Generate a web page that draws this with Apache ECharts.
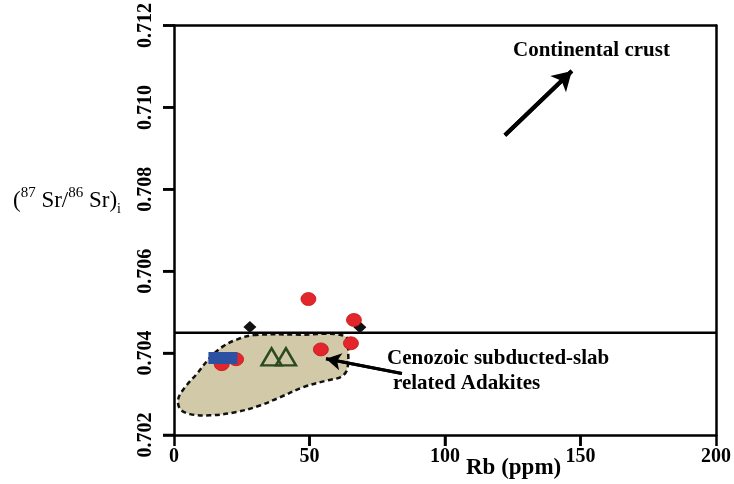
<!DOCTYPE html>
<html>
<head>
<meta charset="utf-8">
<script src="https://cdn.jsdelivr.net/npm/echarts@6/dist/echarts.min.js"></script>
<style>
  html, body { margin: 0; padding: 0; background: #fff; }
  #chart { width: 734px; height: 484px; }
</style>
</head>
<body>
<div id="chart"></div>
<script>
// Rb (ppm) vs initial 87Sr/86Sr
const redRb = [17.6, 22.9, 49.6, 54.2, 65.3, 66.4];
const redSr = [0.70373, 0.70385, 0.70532, 0.70409, 0.70424, 0.70481];
const blueRb = [15.1, 18.0, 21.0];
const blueSr = [0.70388, 0.70388, 0.70388];
const blackRb = [28.0, 68.6];
const blackSr = [0.70464, 0.70463];
const greenRb = [36.0, 41.3];
const greenSr = [0.70391, 0.70391];

// Field of Cenozoic subducted-slab related adakites (outline)
const fieldRb = [29.3, 46.5, 63.1, 64.3, 63.7, 61.3, 56.3, 47.7, 39.1, 31.7, 23.1, 13.3, 5.9, 2.2, 1.6, 4.1, 8.4, 13.3, 18.2, 23.1];
const fieldSr = [0.70444, 0.70445, 0.70441, 0.70397, 0.70357, 0.70341, 0.70333, 0.70317, 0.70292, 0.70272, 0.70256, 0.70248, 0.70251, 0.70264, 0.70289, 0.70317, 0.70349, 0.70389, 0.70417, 0.70433];

// Reference level and trend arrows
const srLevel = 0.7045;
const crustArrowRb = [122.1, 146.8];
const crustArrowSr = [0.70932, 0.71089];
const adakiteArrowRb = [84.1, 56.1];
const adakiteArrowSr = [0.70350, 0.70386];

const xTicks = [0, 50, 100, 150, 200];
const yTicks = [0.702, 0.704, 0.706, 0.708, 0.710, 0.712];

const serif = '"Liberation Serif", "Times New Roman", serif';
const chart = echarts.init(document.getElementById('chart'));

const zip = (a, b) => a.map((v, i) => [v, b[i]]);
const xMin = xTicks[0], xMax = xTicks[xTicks.length - 1];
const yMin = yTicks[0], yMax = yTicks[yTicks.length - 1];
const TICK = 11;
const frameLine = { show: true, onZero: false, lineStyle: { color: '#000', width: 2.5 } };
const tickStyle = { show: true, length: TICK, lineStyle: { color: '#000', width: 2.5 } };

// Plain axes on the top and right close the frame
const frameX = { type: 'value', position: 'top', min: xMin, max: xMax, interval: 50,
  axisLine: frameLine, axisTick: { show: false }, axisLabel: { show: false }, splitLine: { show: false } };
const frameY = { type: 'value', position: 'right', min: yMin, max: yMax, interval: 0.002,
  axisLine: frameLine, axisTick: { show: false }, axisLabel: { show: false }, splitLine: { show: false } };

// Adakite field plus outward tick marks at the labelled values
function renderField(params, api) {
  const children = [{
    type: 'polygon',
    shape: { points: fieldRb.map((x, i) => api.coord([x, fieldSr[i]])), smooth: 0.35 },
    style: { fill: '#d2c9a8', stroke: '#111', lineWidth: 2.5, lineDash: [5, 3.5] }
  }];
  const tick = { stroke: '#000', lineWidth: 2.5 };
  xTicks.slice(1, -1).forEach(v => {
    const p = api.coord([v, yMin]);
    children.push({ type: 'line', shape: { x1: p[0], y1: p[1], x2: p[0], y2: p[1] + TICK }, style: tick });
  });
  yTicks.forEach(v => {
    const p = api.coord([xMin, v]);
    children.push({ type: 'line', shape: { x1: p[0] - TICK, y1: p[1], x2: p[0], y2: p[1] }, style: tick });
  });
  return { type: 'group', children };
}

chart.setOption({
  animation: false,
  grid: { left: 174, right: 18, top: 22, bottom: 49 },
  xAxis: [{
    type: 'value', position: 'bottom', min: xMin, max: xMax, interval: 50,
    splitLine: { show: false },
    axisLine: frameLine,
    axisTick: tickStyle,
    axisLabel: { color: '#000', fontFamily: serif, fontWeight: 'bold', fontSize: 20, margin: 12 }
  }, frameX],
  yAxis: [{
    type: 'value', position: 'left', min: yMin, max: yMax, interval: 0.002,
    splitLine: { show: false },
    axisLine: frameLine,
    axisTick: tickStyle,
    axisLabel: {
      color: '#000', fontFamily: serif, fontWeight: 'bold', fontSize: 20, rotate: 90, margin: 18,
      formatter: v => v.toFixed(3)
    }
  }, frameY],
  graphic: [
    { type: 'text', left: 466, top: 457, style: { text: 'Rb (ppm)', font: 'bold 23px ' + serif, fill: '#000' } },
    {
      type: 'text', left: 13, top: 186,
      style: {
        text: '({sup|87} Sr/{sup|86} Sr){sub|i}',
        font: '23px ' + serif, fill: '#000',
        rich: {
          sup: { fontFamily: serif, fontSize: 15, lineHeight: 14, verticalAlign: 'top', fill: '#000' },
          sub: { fontFamily: serif, fontSize: 14, lineHeight: 12, verticalAlign: 'bottom', fill: '#000' }
        },
        lineHeight: 30
      }
    },
    { type: 'text', left: 513, top: 40, style: { text: 'Continental crust', font: 'bold 21px ' + serif, fill: '#000' } },
    { type: 'text', left: 387, top: 348, style: { text: 'Cenozoic subducted-slab', font: 'bold 21px ' + serif, fill: '#000' } },
    { type: 'text', left: 393, top: 373, style: { text: 'related Adakites', font: 'bold 21px ' + serif, fill: '#000' } }
  ],
  series: [
    {
      type: 'custom',
      coordinateSystem: 'cartesian2d',
      data: [[100, 0.707]],
      clip: false,
      z: 1,
      silent: true,
      renderItem: renderField
    },
    {
      type: 'line', z: 3, silent: true, symbol: 'none',
      lineStyle: { color: '#000', width: 2.5 },
      data: [[xMin, srLevel], [xMax, srLevel]]
    },
    {
      type: 'line', z: 4, silent: true, symbol: 'none',
      lineStyle: { color: '#000', width: 4 },
      data: zip(crustArrowRb, crustArrowSr),
      markLine: {
        silent: true, symbol: ['none', 'arrow'], symbolSize: [17, 19], label: { show: false },
        lineStyle: { color: '#000', width: 4, type: 'solid' },
        data: [[
          { coord: [crustArrowRb[0], crustArrowSr[0]] },
          { coord: [crustArrowRb[1], crustArrowSr[1]] }
        ]]
      }
    },
    {
      type: 'line', z: 4, silent: true, symbol: 'none',
      lineStyle: { color: '#000', width: 3 },
      data: zip(adakiteArrowRb, adakiteArrowSr),
      markLine: {
        silent: true, symbol: ['none', 'arrow'], symbolSize: [13, 15], label: { show: false },
        lineStyle: { color: '#000', width: 3, type: 'solid' },
        data: [[
          { coord: [adakiteArrowRb[0], adakiteArrowSr[0]] },
          { coord: [adakiteArrowRb[1], adakiteArrowSr[1]] }
        ]]
      }
    },
    {
      type: 'scatter', z: 5, symbol: 'diamond', symbolSize: [13, 12],
      itemStyle: { color: '#111', opacity: 1 },
      data: zip(blackRb, blackSr)
    },
    {
      type: 'scatter', z: 5, symbol: 'circle', symbolSize: [15, 13],
      itemStyle: { color: '#e3262b', borderColor: '#c01818', borderWidth: 0.8, opacity: 1 },
      data: zip(redRb, redSr)
    },
    {
      type: 'scatter', z: 6, symbol: 'rect', symbolSize: [13, 12],
      itemStyle: { color: '#2c51a2', opacity: 1 },
      data: zip(blueRb, blueSr)
    },
    {
      type: 'scatter', z: 6, symbol: 'triangle', symbolSize: [20, 17],
      itemStyle: { color: 'rgba(0,0,0,0)', borderColor: '#2c4a20', borderWidth: 2.5, opacity: 1 },
      data: zip(greenRb, greenSr)
    }
  ]
});
</script>
</body>
</html>
